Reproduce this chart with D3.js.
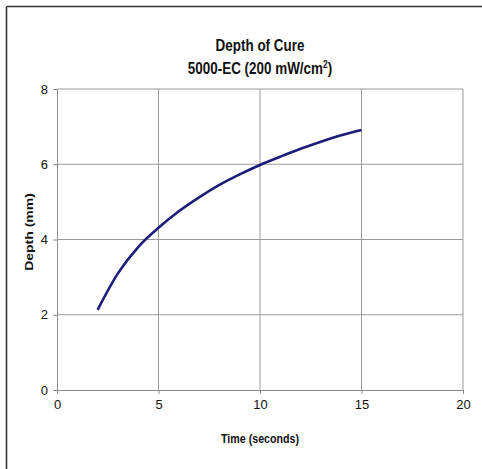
<!DOCTYPE html>
<html>
<head>
<meta charset="utf-8">
<script src="https://cdn.jsdelivr.net/npm/d3@7"></script>
<style>
  body { margin: 0; background: #fff; }
  svg text { font-family: "Liberation Sans", Arial, sans-serif; fill: #111; }
</style>
</head>
<body>
<svg id="chart" width="482" height="469"></svg>
<script>
// values
var times  = [2, 3, 4, 5, 6, 7, 8, 9, 10, 11, 12, 13, 14, 15];
var depths = [2.13, 3.1, 3.8, 4.31, 4.75, 5.12, 5.45, 5.73, 5.98, 6.2, 6.41, 6.6, 6.77, 6.91];
var xTicks = [0, 5, 10, 15, 20];
var yTicks = [0, 2, 4, 6, 8];

var data = times.map(function (t, i) { return { t: t, d: depths[i] }; });

var svg = d3.select("#chart");

// frame: only top and left edges show
svg.append("line").attr("x1", 6.5).attr("x2", 482).attr("y1", 6.5).attr("y2", 6.5)
    .attr("stroke", "#333").attr("stroke-width", 1.6);
svg.append("line").attr("x1", 6.5).attr("x2", 6.5).attr("y1", 6.5).attr("y2", 469)
    .attr("stroke", "#333").attr("stroke-width", 1.6);

var x = d3.scaleLinear().domain([0, 20]).range([57, 463]);
var y = d3.scaleLinear().domain([0, 8]).range([390, 89]);

// gridlines
svg.append("g").selectAll("line").data(xTicks.slice(1)).join("line")
    .attr("x1", d => x(d)).attr("x2", d => x(d))
    .attr("y1", y(0)).attr("y2", y(8))
    .attr("stroke", "#9a9a9a").attr("stroke-width", 1);
svg.append("g").selectAll("line").data(yTicks.slice(1)).join("line")
    .attr("x1", x(0)).attr("x2", x(20))
    .attr("y1", d => y(d)).attr("y2", d => y(d))
    .attr("stroke", "#9a9a9a").attr("stroke-width", 1);

var xAxis = d3.axisBottom(x).tickValues(xTicks).tickSize(4).tickPadding(6).tickSizeOuter(0);
var yAxis = d3.axisLeft(y).tickValues(yTicks).tickSize(4).tickPadding(5).tickSizeOuter(0);

svg.append("g").attr("transform", "translate(0," + y(0) + ")").call(xAxis)
    .call(g => g.selectAll("text").attr("font-size", 13).attr("fill", "#333").style("font-family", "Liberation Sans, Arial, sans-serif"));
svg.append("g").attr("transform", "translate(" + x(0) + ",0)").call(yAxis)
    .call(g => g.selectAll("text").attr("font-size", 13).attr("fill", "#333").style("font-family", "Liberation Sans, Arial, sans-serif"));

svg.selectAll(".domain, .tick line").attr("stroke", "#8a8a8a");

// curve
var line = d3.line().x(d => x(d.t)).y(d => y(d.d)).curve(d3.curveMonotoneX);
svg.append("path").datum(data)
    .attr("d", line)
    .attr("fill", "none")
    .attr("stroke", "#1c1c7a")
    .attr("stroke-width", 2.6);

// titles (the picture is slightly squeezed horizontally)
var cx = (x(0) + x(20)) / 2;
svg.append("text")
    .attr("transform", "translate(" + cx + ",51) scale(0.84,1)")
    .attr("text-anchor", "middle").attr("font-size", 16).attr("font-weight", "bold")
    .text("Depth of Cure");
var t2 = svg.append("text")
    .attr("transform", "translate(" + cx + ",74) scale(0.84,1)")
    .attr("text-anchor", "middle").attr("font-size", 16).attr("font-weight", "bold");
t2.append("tspan").text("5000-EC (200 mW/cm");
t2.append("tspan").attr("font-size", 10).attr("dy", -6).text("2");
t2.append("tspan").attr("dy", 6).text(")");

svg.append("text")
    .attr("transform", "translate(" + cx + ",443) scale(0.82,1)")
    .attr("text-anchor", "middle").attr("font-size", 13).attr("font-weight", "bold")
    .text("Time (seconds)");

svg.append("text")
    .attr("transform", "translate(33,232) rotate(-90) scale(1,0.84)")
    .attr("text-anchor", "middle").attr("font-size", 14).attr("font-weight", "bold")
    .text("Depth (mm)");
</script>
</body>
</html>
